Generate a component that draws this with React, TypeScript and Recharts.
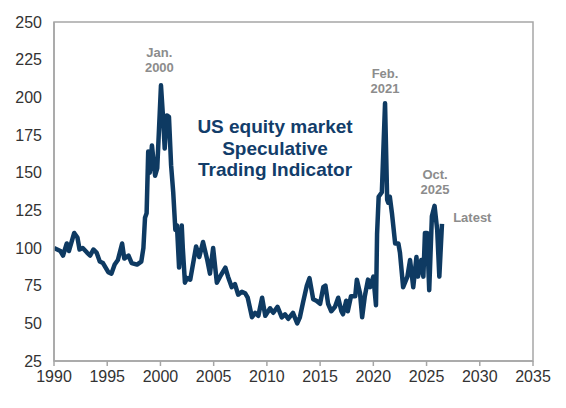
import { LineChart, Line, XAxis, YAxis, ReferenceDot, ReferenceArea } from 'recharts';

// sample dates (decimal years) and indicator readings
const years = [
  1990.0, 1990.3, 1990.6, 1990.85, 1991.2, 1991.4, 1991.9, 1992.2, 1992.4, 1992.7,
  1993.1, 1993.4, 1993.7, 1994.0, 1994.3, 1994.6, 1995.1, 1995.4, 1995.7, 1996.0,
  1996.4, 1996.6, 1997.0, 1997.3, 1997.8, 1998.2, 1998.4, 1998.55, 1998.7, 1998.85,
  1999.0, 1999.2, 1999.5, 1999.7, 2000.05, 2000.25, 2000.4, 2000.6, 2000.8, 2001.0,
  2001.2, 2001.4, 2001.55, 2001.75, 2002.0, 2002.1, 2002.3, 2002.5, 2002.8, 2003.0,
  2003.35, 2003.65, 2004.0, 2004.4, 2004.65, 2004.95, 2005.3, 2005.6, 2006.1, 2006.35,
  2006.7, 2007.0, 2007.3, 2007.65, 2007.95, 2008.2, 2008.6, 2008.9, 2009.2, 2009.55,
  2009.85, 2010.3, 2010.6, 2011.0, 2011.4, 2011.7, 2012.0, 2012.45, 2012.85, 2013.1,
  2013.4, 2013.75, 2014.0, 2014.35, 2014.65, 2015.0, 2015.3, 2015.5, 2015.75, 2016.05,
  2016.4, 2016.7, 2017.0, 2017.15, 2017.45, 2017.6, 2017.9, 2018.3, 2018.45, 2018.75,
  2018.95, 2019.2, 2019.5, 2019.7, 2020.0, 2020.25, 2020.35, 2020.5, 2020.8, 2021.1,
  2021.3, 2021.4, 2021.55, 2021.75, 2022.05, 2022.35, 2022.5, 2022.8, 2023.2, 2023.45,
  2023.75, 2024.05, 2024.2, 2024.5, 2024.7, 2024.85, 2025.05, 2025.25, 2025.5, 2025.75,
  2026.0, 2026.2, 2026.45,
];

const indicator = [
  100, 99, 98, 95, 103, 98, 110, 107, 99, 100,
  97, 95, 99, 97, 91, 90, 84, 83, 89, 92,
  103, 93, 95, 90, 89, 91, 100, 120, 123, 164,
  150, 168, 148, 153, 208, 186, 166, 188, 187, 155,
  137, 112, 115, 87, 115, 100, 77, 80, 79, 87,
  101, 94, 104, 92, 83, 100, 77, 81, 87, 81,
  74, 76, 69, 71, 70, 67, 54, 57, 55, 67,
  55, 60, 57, 61, 54, 56, 53, 57, 50, 54,
  64, 75, 80, 66, 65, 63, 74, 75, 63, 58,
  61, 67, 58, 56, 65, 58, 68, 68, 79, 70,
  54, 68, 79, 74, 81, 62, 109, 134, 137, 196,
  132, 130, 134, 123, 103, 103, 97, 74, 81, 92,
  74, 94, 81, 92, 81, 110, 110, 72, 121, 128,
  112, 81, 116,
];

const xTicks = [1990, 1995, 2000, 2005, 2010, 2015, 2020, 2025, 2030, 2035];
const yTicks = [25, 50, 75, 100, 125, 150, 175, 200, 225, 250];

const data = years.map((year, i) => ({ year, value: indicator[i] }));

const font = 'Arial, "Liberation Sans", sans-serif';
const axisColor = '#a6a6a6';
const noteColor = '#8c8c8c';

const Note = ({ cx, cy, lines, anchor = 'middle' }: any) => (
  <text x={cx} y={cy} textAnchor={anchor} fill={noteColor} fontSize={13} fontWeight="bold" fontFamily={font}>
    {lines.map((l: string, i: number) => (
      <tspan key={l} x={cx} dy={i === 0 ? 0 : 15}>{l}</tspan>
    ))}
  </text>
);

export default function App() {
  return (
    <div style={{ position: 'relative', width: 566, height: 408 }}>
      <style>{`body{margin:0}`}</style>
      <LineChart width={566} height={408} data={data} margin={{ top: 22, right: 33, bottom: 17, left: 0 }}>
        <ReferenceArea x1={1990} x2={2035} y1={25} y2={250} fill="none" stroke={axisColor} strokeWidth={1.5} />
        <XAxis
          dataKey="year"
          type="number"
          domain={[1990, 2035]}
          ticks={xTicks}
          interval={0}
          allowDataOverflow
          stroke={axisColor}
          strokeWidth={1.5}
          tickSize={5}
          tickMargin={5}
          height={30}
          tick={{ fill: '#333', fontSize: 16, fontFamily: font }}
        />
        <YAxis
          type="number"
          domain={[25, 250]}
          ticks={yTicks}
          interval={0}
          width={54}
          stroke={axisColor}
          strokeWidth={1.5}
          tickLine={false}
          tickSize={0}
          tickMargin={12}
          tick={{ fill: '#333', fontSize: 16, fontFamily: font }}
        />
        <Line
          type="linear"
          dataKey="value"
          stroke="#0e3a62"
          strokeWidth={4.5}
          strokeLinejoin="round"
          dot={false}
          isAnimationActive={false}
        />
        <ReferenceDot x={1999.9} y={226.5} r={0} shape={(p: any) => <Note cx={p.cx} cy={p.cy} lines={['Jan.', '2000']} />} />
        <ReferenceDot x={2021.1} y={213} r={0} shape={(p: any) => <Note cx={p.cx} cy={p.cy} lines={['Feb.', '2021']} />} />
        <ReferenceDot x={2025.8} y={145.5} r={0} shape={(p: any) => <Note cx={p.cx} cy={p.cy} lines={['Oct.', '2025']} />} />
        <ReferenceDot x={2027.5} y={117.5} r={0} shape={(p: any) => <Note cx={p.cx} cy={p.cy} lines={['Latest']} anchor="start" />} />
      </LineChart>
      <div
        style={{
          position: 'absolute',
          left: 165,
          top: 116,
          width: 220,
          textAlign: 'center',
          color: '#123d6a',
          fontFamily: font,
          fontWeight: 'bold',
          fontSize: 19,
          lineHeight: '21.5px',
        }}
      >
        US equity market
        <br />
        Speculative
        <br />
        Trading Indicator
      </div>
    </div>
  );
}
